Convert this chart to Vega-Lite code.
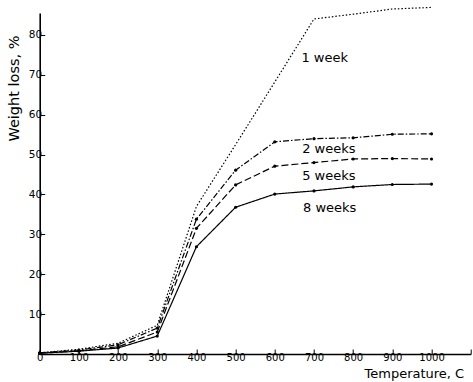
{
  "$schema": "https://vega.github.io/schema/vega-lite/v6.json",
  "width": 431,
  "height": 341,
  "autosize": {"type": "none"},
  "padding": {"left": 39.7, "top": 13, "right": 2.3, "bottom": 28},
  "background": "white",
  "config": {
    "view": {"stroke": null},
    "font": "DejaVu Sans"
  },
  "datasets": {
    "curves": [
      {"series": "1 week", "temp": 0, "loss": 0.3},
      {"series": "1 week", "temp": 100, "loss": 1.2},
      {"series": "1 week", "temp": 200, "loss": 2.7},
      {"series": "1 week", "temp": 300, "loss": 7.2},
      {"series": "1 week", "temp": 400, "loss": 37},
      {"series": "1 week", "temp": 500, "loss": 52.5},
      {"series": "1 week", "temp": 600, "loss": 68.2},
      {"series": "1 week", "temp": 700, "loss": 84},
      {"series": "1 week", "temp": 800, "loss": 85.2},
      {"series": "1 week", "temp": 900, "loss": 86.5},
      {"series": "1 week", "temp": 1000, "loss": 86.9},
      {"series": "2 weeks", "temp": 0, "loss": 0.3},
      {"series": "2 weeks", "temp": 100, "loss": 1.0},
      {"series": "2 weeks", "temp": 200, "loss": 2.3},
      {"series": "2 weeks", "temp": 300, "loss": 6.5},
      {"series": "2 weeks", "temp": 400, "loss": 33.8},
      {"series": "2 weeks", "temp": 500, "loss": 46.1},
      {"series": "2 weeks", "temp": 600, "loss": 53.2},
      {"series": "2 weeks", "temp": 700, "loss": 54.0},
      {"series": "2 weeks", "temp": 800, "loss": 54.2},
      {"series": "2 weeks", "temp": 900, "loss": 55.1},
      {"series": "2 weeks", "temp": 1000, "loss": 55.2},
      {"series": "5 weeks", "temp": 0, "loss": 0.2},
      {"series": "5 weeks", "temp": 100, "loss": 0.8},
      {"series": "5 weeks", "temp": 200, "loss": 1.8},
      {"series": "5 weeks", "temp": 300, "loss": 5.5},
      {"series": "5 weeks", "temp": 400, "loss": 31.5},
      {"series": "5 weeks", "temp": 500, "loss": 42.4},
      {"series": "5 weeks", "temp": 600, "loss": 47.1},
      {"series": "5 weeks", "temp": 700, "loss": 48.0},
      {"series": "5 weeks", "temp": 800, "loss": 48.9},
      {"series": "5 weeks", "temp": 900, "loss": 49.0},
      {"series": "5 weeks", "temp": 1000, "loss": 48.9},
      {"series": "8 weeks", "temp": 0, "loss": 0.2},
      {"series": "8 weeks", "temp": 100, "loss": 0.7},
      {"series": "8 weeks", "temp": 200, "loss": 1.5},
      {"series": "8 weeks", "temp": 300, "loss": 4.5},
      {"series": "8 weeks", "temp": 400, "loss": 26.9},
      {"series": "8 weeks", "temp": 500, "loss": 36.8},
      {"series": "8 weeks", "temp": 600, "loss": 40.1},
      {"series": "8 weeks", "temp": 700, "loss": 40.9},
      {"series": "8 weeks", "temp": 800, "loss": 41.9},
      {"series": "8 weeks", "temp": 900, "loss": 42.5},
      {"series": "8 weeks", "temp": 1000, "loss": 42.6}
    ],
    "labels": [
      {"label": "1 week", "temp": 668, "loss": 74.2},
      {"label": "2 weeks", "temp": 670, "loss": 51.4},
      {"label": "5 weeks", "temp": 670, "loss": 44.7},
      {"label": "8 weeks", "temp": 672, "loss": 36.7}
    ]
  },
  "encoding": {
    "x": {
      "field": "temp", "type": "quantitative",
      "scale": {"domain": [0, 1100], "nice": false, "zero": false},
      "axis": {
        "values": [0, 100, 200, 300, 400, 500, 600, 700, 800, 900, 1000, 1100],
        "labelExpr": "datum.value > 1000 ? '' : datum.label",
        "format": "d",
        "grid": false,
        "domainColor": "black", "domainWidth": 1.6,
        "ticks": true, "tickColor": "black", "tickSize": -5, "tickWidth": 1,
        "labelColor": "black", "labelFontSize": 10, "labelPadding": 3,
        "labelFlush": false, "labelOverlap": false, "labelBound": false,
        "title": "Temperature, C",
        "titleFontSize": 13, "titleFontWeight": "normal", "titleColor": "black",
        "titleAnchor": "end", "titleAlign": "right", "titleX": 424, "titleY": 19, "titleBaseline": "middle"
      }
    },
    "y": {
      "field": "loss", "type": "quantitative",
      "scale": {"domain": [0, 85.5], "nice": false, "zero": false},
      "axis": {
        "values": [10, 20, 30, 40, 50, 60, 70, 80],
        "grid": false,
        "domainColor": "black", "domainWidth": 1.6,
        "ticks": true, "tickColor": "black", "tickSize": -5, "tickWidth": 1,
        "labelColor": "black", "labelFontSize": 10.5, "labelPadding": 3,
        "labelFlush": false, "labelOverlap": false,
        "title": "Weight loss, %",
        "titleFontSize": 14.5, "titleFontWeight": "normal", "titleColor": "black",
        "titleX": -25, "titleY": 75, "titleAlign": "center", "titleBaseline": "middle", "titleAngle": -90
      }
    }
  },
  "layer": [
    {
      "data": {"name": "curves"},
      "mark": {"type": "line", "color": "black", "strokeWidth": 1.2},
      "encoding": {
        "detail": {"field": "series", "type": "nominal"},
        "strokeDash": {
          "field": "series", "type": "nominal",
          "scale": {"domain": ["1 week", "2 weeks", "5 weeks", "8 weeks"], "range": [[1.5, 2], [6, 2, 1.5, 2], [7, 3], [1, 0]]},
          "legend": null
        }
      }
    },
    {
      "data": {"name": "curves"},
      "transform": [{"filter": "datum.series != '1 week'"}],
      "mark": {"type": "point", "filled": true, "color": "black", "size": 10, "opacity": 1},
      "encoding": {}
    },
    {
      "data": {"name": "labels"},
      "mark": {"type": "text", "align": "left", "baseline": "middle", "fontSize": 13, "color": "black"},
      "encoding": {
        "text": {"field": "label", "type": "nominal"}
      }
    }
  ]
}
